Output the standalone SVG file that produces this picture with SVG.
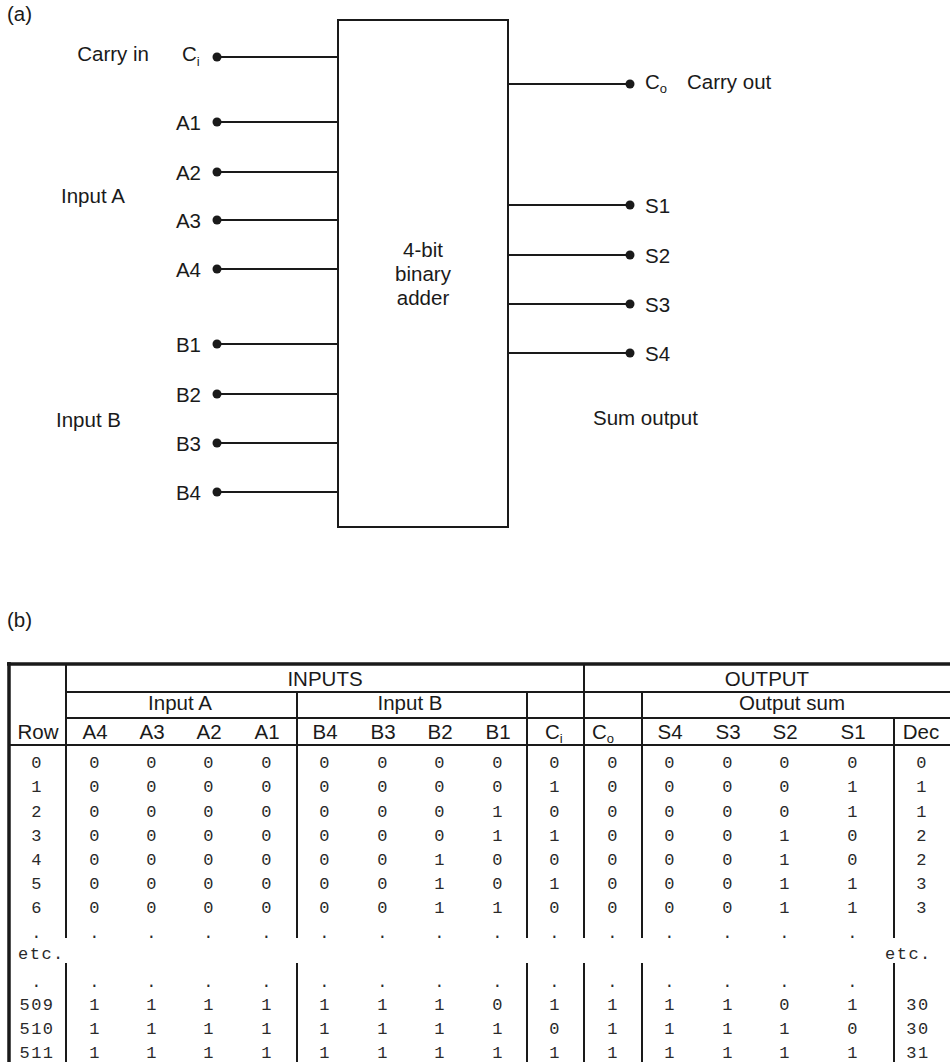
<svg xmlns="http://www.w3.org/2000/svg" width="950" height="1062" viewBox="0 0 950 1062">
<style>
.t{font-family:"Liberation Sans",Arial,sans-serif;font-size:20.5px;fill:#1a1a1a}
.h{font-family:"Liberation Sans",Arial,sans-serif;font-size:20.5px;fill:#1a1a1a}
.m{font-family:"Liberation Mono","Courier New",monospace;font-size:17px;letter-spacing:1.5px;fill:#2a2a2a;text-anchor:middle}
.me{font-family:"Liberation Mono","Courier New",monospace;font-size:17px;letter-spacing:1.5px;fill:#2a2a2a}
.e{text-anchor:end}
.c{text-anchor:middle}
.sub{font-size:13px}
.w{stroke:#1a1a1a;stroke-width:2;fill:none}
.dot{fill:#1a1a1a}
.tl{stroke:#1a1a1a;stroke-width:2;fill:none}
.tk{stroke:#1a1a1a;stroke-width:3.5;fill:none}
</style>

<text class="t" x="7" y="21">(a)</text>

<g id="adder">
<rect x="338" y="20" width="170" height="507" fill="#fff" stroke="#1a1a1a" stroke-width="2"/>
<text class="t c" x="423" y="257">4-bit</text>
<text class="t c" x="423" y="281">binary</text>
<text class="t c" x="423" y="305">adder</text>
</g>

<g id="connectors">
<line class="w" x1="217" y1="57" x2="338" y2="57"/>
<line class="w" x1="217" y1="122" x2="338" y2="122"/>
<line class="w" x1="217" y1="172" x2="338" y2="172"/>
<line class="w" x1="217" y1="220" x2="338" y2="220"/>
<line class="w" x1="217" y1="269" x2="338" y2="269"/>
<line class="w" x1="217" y1="344" x2="338" y2="344"/>
<line class="w" x1="217" y1="394" x2="338" y2="394"/>
<line class="w" x1="217" y1="443" x2="338" y2="443"/>
<line class="w" x1="217" y1="492" x2="338" y2="492"/>
<line class="w" x1="508" y1="84" x2="630" y2="84"/>
<line class="w" x1="508" y1="205" x2="630" y2="205"/>
<line class="w" x1="508" y1="255" x2="630" y2="255"/>
<line class="w" x1="508" y1="304" x2="630" y2="304"/>
<line class="w" x1="508" y1="353" x2="630" y2="353"/>
</g>

<g id="pin-ci"><circle class="dot" cx="217" cy="57" r="4.5"/><text class="t" x="182" y="61">C<tspan class="sub" dy="5">i</tspan></text></g>
<g id="pin-a1"><circle class="dot" cx="217" cy="122" r="4.5"/><text class="t e" x="201" y="129.5">A1</text></g>
<g id="pin-a2"><circle class="dot" cx="217" cy="172" r="4.5"/><text class="t e" x="201" y="179.5">A2</text></g>
<g id="pin-a3"><circle class="dot" cx="217" cy="220" r="4.5"/><text class="t e" x="201" y="227.5">A3</text></g>
<g id="pin-a4"><circle class="dot" cx="217" cy="269" r="4.5"/><text class="t e" x="201" y="276.5">A4</text></g>
<g id="pin-b1"><circle class="dot" cx="217" cy="344" r="4.5"/><text class="t e" x="201" y="351.5">B1</text></g>
<g id="pin-b2"><circle class="dot" cx="217" cy="394" r="4.5"/><text class="t e" x="201" y="401.5">B2</text></g>
<g id="pin-b3"><circle class="dot" cx="217" cy="443" r="4.5"/><text class="t e" x="201" y="450.5">B3</text></g>
<g id="pin-b4"><circle class="dot" cx="217" cy="492" r="4.5"/><text class="t e" x="201" y="499.5">B4</text></g>
<g id="pin-co"><circle class="dot" cx="630" cy="84" r="4.5"/><text class="t" x="645" y="89">C<tspan class="sub" dy="4">o</tspan></text></g>
<g id="pin-s1"><circle class="dot" cx="630" cy="205" r="4.5"/><text class="t" x="645" y="212.5">S1</text></g>
<g id="pin-s2"><circle class="dot" cx="630" cy="255" r="4.5"/><text class="t" x="645" y="262.5">S2</text></g>
<g id="pin-s3"><circle class="dot" cx="630" cy="304" r="4.5"/><text class="t" x="645" y="311.5">S3</text></g>
<g id="pin-s4"><circle class="dot" cx="630" cy="353" r="4.5"/><text class="t" x="645" y="360.5">S4</text></g>

<g id="labels">
<text class="t e" x="149" y="61">Carry in</text>
<text class="t" x="61" y="203">Input A</text>
<text class="t" x="56" y="427">Input B</text>
<text class="t" x="687" y="89">Carry out</text>
<text class="t" x="593" y="425">Sum output</text>
</g>

<text class="t" x="7" y="627">(b)</text>

<g id="table">
<line class="tk" x1="7" y1="664" x2="950" y2="664"/>
<line class="tk" x1="9" y1="662" x2="9" y2="1062"/>
<line class="tl" x1="66" y1="692" x2="950" y2="692"/>
<line class="tl" x1="66" y1="718" x2="950" y2="718"/>
<line class="tl" x1="9" y1="745" x2="950" y2="745" stroke-width="2.6"/>
<path class="tl" d="M66 664V938M66 963V1062M297 692V938M297 963V1062M527 692V938M527 963V1062M584 664V938M584 963V1062M642 692V938M642 963V1062M894 718V938M894 963V1062"/>

<text class="h c" x="325" y="686">INPUTS</text>
<text class="h c" x="767" y="686">OUTPUT</text>
<text class="h c" x="180" y="710">Input A</text>
<text class="h c" x="410" y="710">Input B</text>
<text class="h c" x="792" y="710">Output sum</text>
<g class="h c">
<text x="38" y="739">Row</text>
<text x="95" y="739">A4</text>
<text x="152" y="739">A3</text>
<text x="209" y="739">A2</text>
<text x="267" y="739">A1</text>
<text x="325" y="739">B4</text>
<text x="383" y="739">B3</text>
<text x="440" y="739">B2</text>
<text x="498" y="739">B1</text>
<text x="670" y="739">S4</text>
<text x="728" y="739">S3</text>
<text x="785" y="739">S2</text>
<text x="853" y="739">S1</text>
<text x="921" y="739">Dec</text>
</g>
<text class="h" x="545" y="739">C<tspan class="sub" dy="4">i</tspan></text>
<text class="h" x="592" y="739">C<tspan class="sub" dy="4">o</tspan></text>

<text class="m" y="768"><tspan x="37">0</tspan><tspan x="95">0</tspan><tspan x="152">0</tspan><tspan x="209">0</tspan><tspan x="267">0</tspan><tspan x="325">0</tspan><tspan x="383">0</tspan><tspan x="440">0</tspan><tspan x="498">0</tspan><tspan x="555">0</tspan><tspan x="613">0</tspan><tspan x="670">0</tspan><tspan x="728">0</tspan><tspan x="785">0</tspan><tspan x="853">0</tspan><tspan x="922">0</tspan></text>
<text class="m" y="792"><tspan x="37">1</tspan><tspan x="95">0</tspan><tspan x="152">0</tspan><tspan x="209">0</tspan><tspan x="267">0</tspan><tspan x="325">0</tspan><tspan x="383">0</tspan><tspan x="440">0</tspan><tspan x="498">0</tspan><tspan x="555">1</tspan><tspan x="613">0</tspan><tspan x="670">0</tspan><tspan x="728">0</tspan><tspan x="785">0</tspan><tspan x="853">1</tspan><tspan x="922">1</tspan></text>
<text class="m" y="816.5"><tspan x="37">2</tspan><tspan x="95">0</tspan><tspan x="152">0</tspan><tspan x="209">0</tspan><tspan x="267">0</tspan><tspan x="325">0</tspan><tspan x="383">0</tspan><tspan x="440">0</tspan><tspan x="498">1</tspan><tspan x="555">0</tspan><tspan x="613">0</tspan><tspan x="670">0</tspan><tspan x="728">0</tspan><tspan x="785">0</tspan><tspan x="853">1</tspan><tspan x="922">1</tspan></text>
<text class="m" y="840.5"><tspan x="37">3</tspan><tspan x="95">0</tspan><tspan x="152">0</tspan><tspan x="209">0</tspan><tspan x="267">0</tspan><tspan x="325">0</tspan><tspan x="383">0</tspan><tspan x="440">0</tspan><tspan x="498">1</tspan><tspan x="555">1</tspan><tspan x="613">0</tspan><tspan x="670">0</tspan><tspan x="728">0</tspan><tspan x="785">1</tspan><tspan x="853">0</tspan><tspan x="922">2</tspan></text>
<text class="m" y="864.5"><tspan x="37">4</tspan><tspan x="95">0</tspan><tspan x="152">0</tspan><tspan x="209">0</tspan><tspan x="267">0</tspan><tspan x="325">0</tspan><tspan x="383">0</tspan><tspan x="440">1</tspan><tspan x="498">0</tspan><tspan x="555">0</tspan><tspan x="613">0</tspan><tspan x="670">0</tspan><tspan x="728">0</tspan><tspan x="785">1</tspan><tspan x="853">0</tspan><tspan x="922">2</tspan></text>
<text class="m" y="889"><tspan x="37">5</tspan><tspan x="95">0</tspan><tspan x="152">0</tspan><tspan x="209">0</tspan><tspan x="267">0</tspan><tspan x="325">0</tspan><tspan x="383">0</tspan><tspan x="440">1</tspan><tspan x="498">0</tspan><tspan x="555">1</tspan><tspan x="613">0</tspan><tspan x="670">0</tspan><tspan x="728">0</tspan><tspan x="785">1</tspan><tspan x="853">1</tspan><tspan x="922">3</tspan></text>
<text class="m" y="913"><tspan x="37">6</tspan><tspan x="95">0</tspan><tspan x="152">0</tspan><tspan x="209">0</tspan><tspan x="267">0</tspan><tspan x="325">0</tspan><tspan x="383">0</tspan><tspan x="440">1</tspan><tspan x="498">1</tspan><tspan x="555">0</tspan><tspan x="613">0</tspan><tspan x="670">0</tspan><tspan x="728">0</tspan><tspan x="785">1</tspan><tspan x="853">1</tspan><tspan x="922">3</tspan></text>
<text class="m" y="938"><tspan x="37">.</tspan><tspan x="95">.</tspan><tspan x="152">.</tspan><tspan x="209">.</tspan><tspan x="267">.</tspan><tspan x="325">.</tspan><tspan x="383">.</tspan><tspan x="440">.</tspan><tspan x="498">.</tspan><tspan x="555">.</tspan><tspan x="613">.</tspan><tspan x="670">.</tspan><tspan x="728">.</tspan><tspan x="785">.</tspan><tspan x="853">.</tspan></text>
<text class="me" x="18" y="959">etc.</text>
<text class="me" x="885" y="959">etc.</text>
<text class="m" y="986.5"><tspan x="37">.</tspan><tspan x="95">.</tspan><tspan x="152">.</tspan><tspan x="209">.</tspan><tspan x="267">.</tspan><tspan x="325">.</tspan><tspan x="383">.</tspan><tspan x="440">.</tspan><tspan x="498">.</tspan><tspan x="555">.</tspan><tspan x="613">.</tspan><tspan x="670">.</tspan><tspan x="728">.</tspan><tspan x="785">.</tspan><tspan x="853">.</tspan></text>
<text class="m" y="1010"><tspan x="37">509</tspan><tspan x="95">1</tspan><tspan x="152">1</tspan><tspan x="209">1</tspan><tspan x="267">1</tspan><tspan x="325">1</tspan><tspan x="383">1</tspan><tspan x="440">1</tspan><tspan x="498">0</tspan><tspan x="555">1</tspan><tspan x="613">1</tspan><tspan x="670">1</tspan><tspan x="728">1</tspan><tspan x="785">0</tspan><tspan x="853">1</tspan><tspan x="918">30</tspan></text>
<text class="m" y="1034"><tspan x="37">510</tspan><tspan x="95">1</tspan><tspan x="152">1</tspan><tspan x="209">1</tspan><tspan x="267">1</tspan><tspan x="325">1</tspan><tspan x="383">1</tspan><tspan x="440">1</tspan><tspan x="498">1</tspan><tspan x="555">0</tspan><tspan x="613">1</tspan><tspan x="670">1</tspan><tspan x="728">1</tspan><tspan x="785">1</tspan><tspan x="853">0</tspan><tspan x="918">30</tspan></text>
<text class="m" y="1058"><tspan x="37">511</tspan><tspan x="95">1</tspan><tspan x="152">1</tspan><tspan x="209">1</tspan><tspan x="267">1</tspan><tspan x="325">1</tspan><tspan x="383">1</tspan><tspan x="440">1</tspan><tspan x="498">1</tspan><tspan x="555">1</tspan><tspan x="613">1</tspan><tspan x="670">1</tspan><tspan x="728">1</tspan><tspan x="785">1</tspan><tspan x="853">1</tspan><tspan x="918">31</tspan></text>
</g>
</svg>
